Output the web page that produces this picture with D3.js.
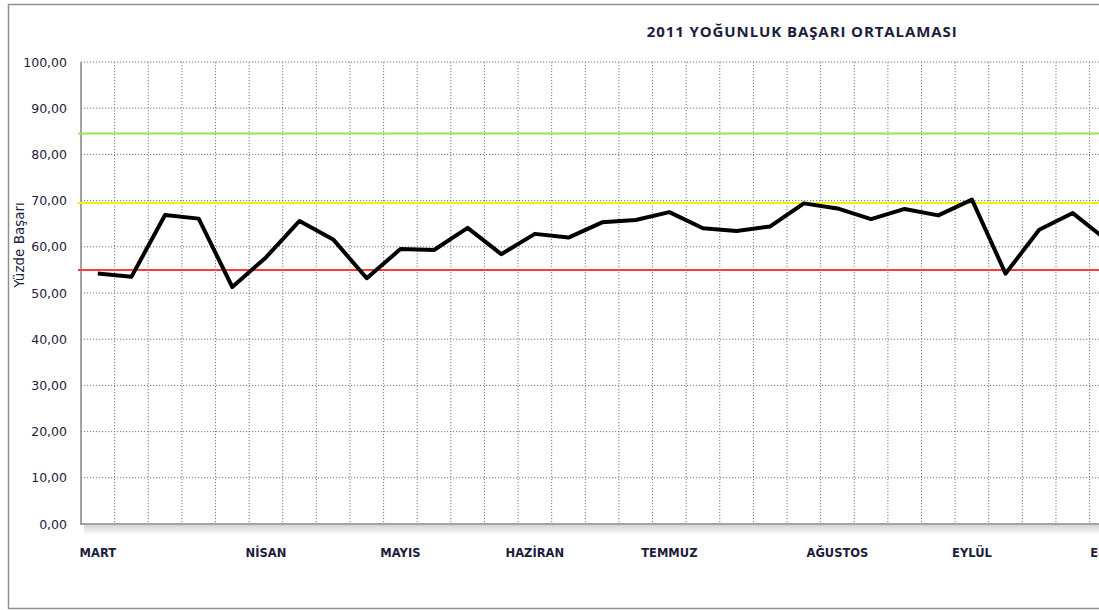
<!DOCTYPE html>
<html>
  <head>
    <meta charset="utf-8">
    <title>2011 YOĞUNLUK BAŞARI ORTALAMASI</title>
    <script src="https://d3js.org/d3.v7.min.js"></script>
    <style>
      body { margin: 0; background: #fff; overflow: hidden; }
      text { font-family: "DejaVu Sans", Verdana, sans-serif; fill: #1c1c3c; }
    </style>
  </head>
  <body>
    <svg width="1099" height="610"></svg>
    <script>
      // weekly averages, March onward (only the visible part of the chart)
      const values = [54.2, 53.5, 66.9, 66.1, 51.3, 57.7, 65.6, 61.6, 53.2, 59.5,
                      59.3, 64.1, 58.4, 62.8, 62.0, 65.3, 65.8, 67.5, 64.0, 63.4,
                      64.4, 69.4, 68.3, 66.0, 68.2, 66.8, 70.2, 54.2, 63.7, 67.3,
                      61.5];
      // month names sit on the first week of each month
      const monthLabels = ["MART", "", "", "", "", "NİSAN", "", "", "", "MAYIS",
                           "", "", "", "HAZİRAN", "", "", "", "TEMMUZ", "", "",
                           "", "", "AĞUSTOS", "", "", "", "EYLÜL", "", "", "",
                           "EKİM", "", "", "", ""];
      const yTicks = [0, 10, 20, 30, 40, 50, 60, 70, 80, 90, 100];
      const limits = [
        { value: 84.5, color: "#9ee24f" },
        { value: 69.5, color: "#f2f200" },
        { value: 55.0, color: "#ff3c3c" }
      ];

      const svg = d3.select("svg");
      const margin = { left: 81, top: 62 };
      const step = 33.62;
      const innerHeight = 462;
      const innerWidth = step * monthLabels.length;

      // chart frame
      svg.append("rect")
        .attr("x", 8.5).attr("y", 4.5)
        .attr("width", 1700).attr("height", 604)
        .attr("fill", "#fff")
        .attr("stroke", "#8f8f8f")
        .attr("stroke-width", 1.5);

      svg.append("text")
        .attr("x", 801.7).attr("y", 36.5)
        .attr("text-anchor", "middle")
        .attr("textLength", 310)
        .style("font-family", "'Open Sans', sans-serif")
        .style("font-weight", "bold")
        .style("font-size", "15px")
        .text("2011 YOĞUNLUK BAŞARI ORTALAMASI");

      const x = d3.scaleBand()
        .domain(d3.range(monthLabels.length))
        .range([0, innerWidth]);
      const y = d3.scaleLinear().domain([0, 100]).range([innerHeight, 0]);

      const g = svg.append("g")
        .attr("transform", `translate(${margin.left},${margin.top})`);

      // floor shadow under the category axis
      const grad = svg.append("defs").append("linearGradient")
        .attr("id", "floor").attr("x1", 0).attr("x2", 0).attr("y1", 0).attr("y2", 1);
      grad.append("stop").attr("offset", 0).attr("stop-color", "#d4d4d4");
      grad.append("stop").attr("offset", 1).attr("stop-color", "#ffffff");
      g.append("rect")
        .attr("x", 3).attr("y", innerHeight + 1)
        .attr("width", innerWidth).attr("height", 10)
        .attr("fill", "url(#floor)");

      // grid
      g.append("g").selectAll("line")
        .data(yTicks.filter(d => d > 0))
        .join("line")
          .attr("x1", 0).attr("x2", innerWidth)
          .attr("y1", d => y(d)).attr("y2", d => y(d))
          .attr("stroke", "#777")
          .attr("stroke-dasharray", "1.2,1.8");
      g.append("g").selectAll("line")
        .data(d3.range(1, monthLabels.length + 1))
        .join("line")
          .attr("x1", d => d * x.step()).attr("x2", d => d * x.step())
          .attr("y1", 0).attr("y2", innerHeight)
          .attr("stroke", "#777")
          .attr("stroke-dasharray", "1.2,1.8");

      // axes lines
      g.append("line")
        .attr("x1", 0).attr("x2", 0).attr("y1", 0).attr("y2", innerHeight + 1)
        .attr("stroke", "#858585").attr("stroke-width", 1.5);
      g.append("line")
        .attr("x1", 0).attr("x2", innerWidth).attr("y1", innerHeight).attr("y2", innerHeight)
        .attr("stroke", "#858585").attr("stroke-width", 1.5);

      // y tick labels
      g.append("g").selectAll("text")
        .data(yTicks)
        .join("text")
          .attr("x", -14)
          .attr("y", d => y(d))
          .attr("dy", "0.36em")
          .attr("text-anchor", "end")
          .style("font-size", "12.5px")
          .text(d => d3.format(".2f")(d).replace(".", ","));

      g.append("text")
        .attr("transform", `translate(${24 - margin.left},${245 - margin.top}) rotate(-90)`)
        .attr("text-anchor", "middle")
        .style("font-size", "13.5px")
        .text("Yüzde Başarı");

      // month labels
      g.append("g").selectAll("text")
        .data(monthLabels.map((m, i) => ({ m, i })).filter(d => d.m))
        .join("text")
          .attr("x", d => x(d.i) + x.bandwidth() / 2)
          .attr("y", innerHeight + 32.5)
          .attr("text-anchor", "middle")
          .style("font-size", "11.5px")
          .style("font-weight", "bold")
          .text(d => d.m);

      // limit lines
      g.append("g").selectAll("line")
        .data(limits)
        .join("line")
          .attr("x1", -3).attr("x2", innerWidth)
          .attr("y1", d => y(d.value)).attr("y2", d => y(d.value))
          .attr("stroke", d => d.color)
          .attr("stroke-width", 2);

      const line = d3.line()
        .x((d, i) => x(i) + x.bandwidth() / 2)
        .y(d => y(d));

      g.append("path")
        .datum(values)
        .attr("fill", "none")
        .attr("stroke", "#000")
        .attr("stroke-width", 4)
        .attr("stroke-linejoin", "round")
        .attr("d", line);
    </script>
  </body>
</html>
